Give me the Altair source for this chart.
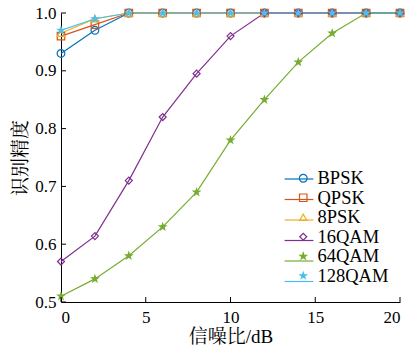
import altair as alt
import pandas as pd

snr = [0, 2, 4, 6, 8, 10, 12, 14, 16, 18, 20]
series = ["BPSK", "QPSK", "8PSK", "16QAM", "64QAM", "128QAM"]
bpsk = [0.93, 0.97, 1, 1, 1, 1, 1, 1, 1, 1, 1]
qpsk = [0.96, 0.98, 1, 1, 1, 1, 1, 1, 1, 1, 1]
psk8 = [0.965, 0.99, 1, 1, 1, 1, 1, 1, 1, 1, 1]
qam16 = [0.57, 0.614, 0.71, 0.82, 0.895, 0.96, 1, 1, 1, 1, 1]
qam64 = [0.51, 0.54, 0.58, 0.63, 0.69, 0.78, 0.85, 0.915, 0.965, 1, 1]
qam128 = [0.97, 0.99, 1, 1, 1, 1, 1, 1, 1, 1, 1]
values = [bpsk, qpsk, psk8, qam16, qam64, qam128]

colors = ["#0072BD", "#D95319", "#EDB120", "#7E2F8E", "#77AC30", "#4DBEEE"]
star = "M0,-1L0.235,-0.324L0.951,-0.309L0.380,0.124L0.588,0.809L0,0.4L-0.588,0.809L-0.380,0.124L-0.951,-0.309L-0.235,-0.324Z"
shapes = ["circle", "square", "triangle-up", "diamond", star, star]
fills = ["transparent", "transparent", "transparent", "transparent", "#77AC30", "#4DBEEE"]
sizes = [60, 42, 50, 60, 110, 110]

x_ticks = [0, 5, 10, 15, 20]
y_ticks = [0.5, 0.6, 0.7, 0.8, 0.9, 1.0]

line_keys = [s + " " for s in series]  # separate key set for the line legend

rows = []
for i, (name, vals) in enumerate(zip(series, values)):
    for s, v in zip(snr, vals):
        rows.append({"snr": s, "acc": v, "m": name, "ml": line_keys[i], "order": i})
df = pd.DataFrame(rows)

FONT = "Times New Roman, Liberation Serif, Noto Serif CJK SC, Noto Sans CJK SC"
W, H = 339, 289
LY = 156
LFS = 18.5
RP = 0.5

xscale = alt.Scale(domain=[0, 20], nice=False, zero=False)
yscale = alt.Scale(domain=[0.5, 1.0], nice=False, zero=False)

xenc = alt.X("snr:Q", scale=xscale, axis=alt.Axis(
    title="信噪比/dB", values=x_ticks, format="d", tickSize=0, labelPadding=7,
    titlePadding=2, grid=False))
yenc = alt.Y("acc:Q", scale=yscale, axis=alt.Axis(
    title="识别精度", values=y_ticks, format=".1f", tickSize=0, labelPadding=5,
    titlePadding=4, grid=False))

# lines: legend drawn as plain coloured strokes (no labels)
lines = alt.Chart(df).mark_line(strokeWidth=1.2).encode(
    x=xenc, y=yenc,
    stroke=alt.Stroke("ml:N",
                      scale=alt.Scale(domain=line_keys, range=colors),
                      legend=alt.Legend(title=None, orient="none", legendX=228, legendY=LY,
                                        symbolType="M-1.6,0H1.6", symbolSize=324,
                                        symbolStrokeWidth=1.2, labelExpr="' '",
                                        labelFontSize=LFS, labelOffset=12, padding=0,
                                        rowPadding=RP)),
    detail="m:N",
)

pleg = dict(title=None, orient="none", legendX=233, legendY=LY,
            labelFontSize=LFS, labelOffset=5, padding=0,
            rowPadding=RP, symbolStrokeWidth=1.2)

# markers: colour + fill + shape legend with the labels
points = alt.Chart(df).mark_point(filled=False, strokeWidth=1.2, opacity=1).encode(
    x="snr:Q", y="acc:Q",
    color=alt.Color("m:N", scale=alt.Scale(domain=series, range=colors),
                    legend=alt.Legend(**pleg)),
    fill=alt.Fill("m:N", scale=alt.Scale(domain=series, range=fills),
                  legend=alt.Legend(**pleg)),
    shape=alt.Shape("m:N", scale=alt.Scale(domain=series, range=shapes),
                    legend=alt.Legend(**pleg)),
    size=alt.Size("m:N", scale=alt.Scale(domain=series, range=sizes), legend=None),
    order="order:Q",
)

xt = alt.Chart(pd.DataFrame({"t": x_ticks})).mark_rule(color="black", strokeWidth=1).encode(
    x=alt.X("t:Q", scale=xscale), y=alt.value(H), y2=alt.value(H - 5))
yt = alt.Chart(pd.DataFrame({"t": y_ticks})).mark_rule(color="black", strokeWidth=1).encode(
    y=alt.Y("t:Q", scale=yscale), x=alt.value(0), x2=alt.value(5))

chart = alt.layer(lines, points, xt, yt).properties(
    width=W, height=H,
    padding={"left": 53, "top": 5, "right": 10, "bottom": 43},
    autosize=alt.AutoSizeParams(type="none"),
    background="white",
).configure_view(stroke=None).configure_axis(
    domainColor="black", domainWidth=1, labelColor="black", titleColor="black",
    labelFont=FONT, titleFont=FONT, labelFontSize=17, titleFontSize=19,
    titleFontWeight="normal",
).configure_legend(labelFont=FONT, labelColor="black")

chart.save("out.html", embed_options={"renderer": "svg", "actions": False})
